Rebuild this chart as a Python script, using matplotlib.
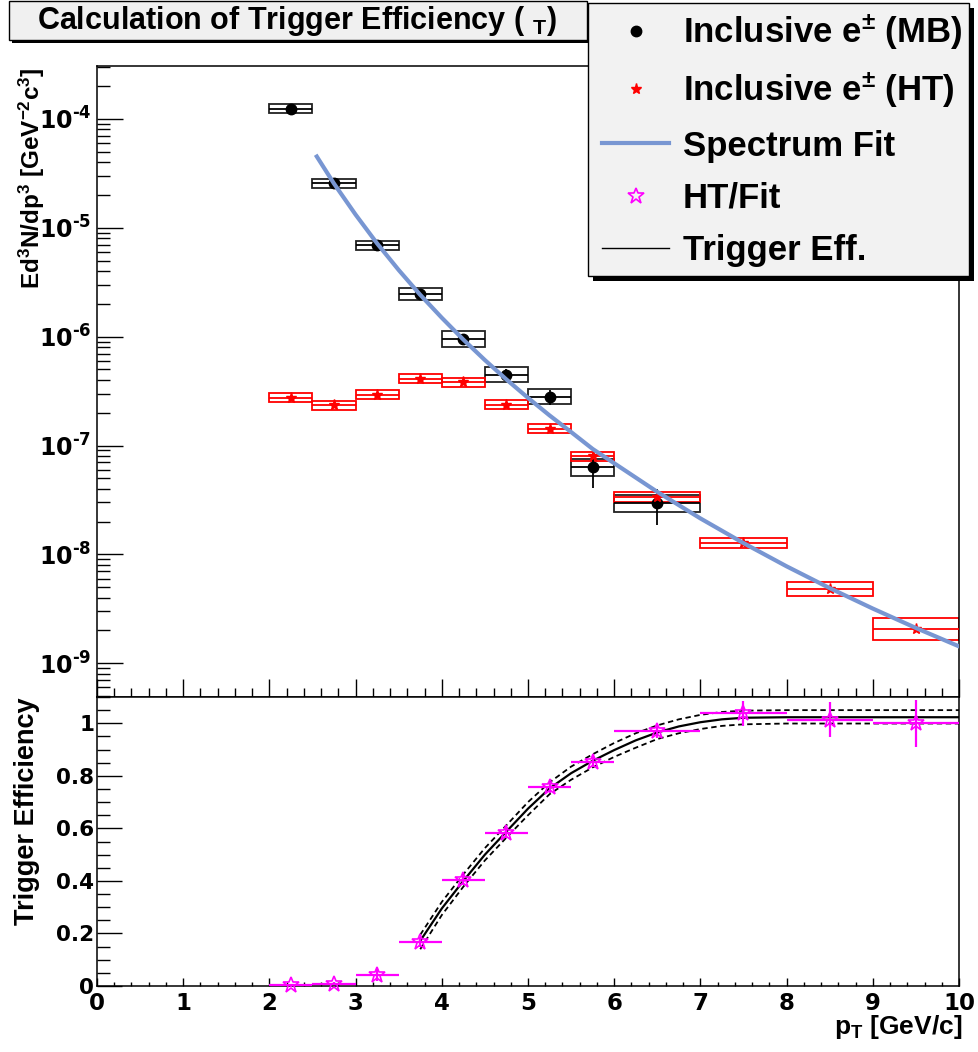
# Trigger efficiency from HT / MB inclusive electron spectra

import matplotlib
matplotlib.use("Agg")
import matplotlib.pyplot as plt
import numpy as np
from matplotlib.patches import Rectangle
from matplotlib.lines import Line2D
from matplotlib.ticker import LogLocator, MultipleLocator, FuncFormatter, NullFormatter

plt.rcParams['font.family'] = ['Liberation Sans', 'DejaVu Sans']
plt.rcParams['font.weight'] = 'bold'
plt.rcParams['mathtext.fontset'] = 'custom'
plt.rcParams['mathtext.rm'] = 'Liberation Sans:bold'
plt.rcParams['mathtext.it'] = 'Liberation Sans:bold'
plt.rcParams['mathtext.bf'] = 'Liberation Sans:bold'
plt.rcParams['mathtext.sf'] = 'DejaVu Sans:bold'
plt.rcParams['mathtext.default'] = 'rm'
plt.rcParams['axes.unicode_minus'] = False

# minimum bias inclusive electrons
mb_pt = np.array([2.25, 2.75, 3.25, 3.75, 4.25, 4.75, 5.25, 5.75, 6.5])
mb_xerr = np.array([0.25, 0.25, 0.25, 0.25, 0.25, 0.25, 0.25, 0.25, 0.5])
mb_val = np.array([1.24e-4, 2.57e-5, 6.9e-6, 2.46e-6, 9.5e-7, 4.48e-7, 2.8e-7, 6.3e-8, 2.94e-8])
mb_stat = np.array([2e-6, 4e-7, 1.2e-7, 5e-8, 3e-8, 6e-8, 4.6e-8, 2.2e-8, 1.06e-8])
mb_sys = np.array([0.10, 0.10, 0.10, 0.127, 0.184, 0.18, 0.175, 0.19, 0.20])

# high tower inclusive electrons
ht_pt = np.array([2.25, 2.75, 3.25, 3.75, 4.25, 4.75, 5.25, 5.75, 6.5, 7.5, 8.5, 9.5])
ht_xerr = np.array([0.25, 0.25, 0.25, 0.25, 0.25, 0.25, 0.25, 0.25, 0.5, 0.5, 0.5, 0.5])
ht_val = np.array([2.75e-7, 2.34e-7, 2.94e-7, 4.12e-7, 3.81e-7, 2.38e-7, 1.42e-7,
                   7.98e-8, 3.35e-8, 1.28e-8, 4.84e-9, 2.05e-9])
ht_stat = np.array([8e-9, 7e-9, 9e-9, 1.2e-8, 1.1e-8, 7e-9, 4e-9, 2.4e-9, 1e-9, 4e-10, 1.5e-10, 6e-11])
ht_sys = np.array([0.10, 0.10, 0.10, 0.10, 0.10, 0.10, 0.10, 0.10, 0.11, 0.11, 0.164, 0.258])

# spectrum fit
fit_pt = np.array([2.55, 2.75, 3.0, 3.25, 3.5, 3.75, 4.0, 4.25, 4.5, 4.75, 5.0, 5.25, 5.5,
                   5.75, 6.0, 6.5, 7.0, 7.5, 8.0, 8.5, 9.0, 9.5, 10.0])
fit_val = np.array([4.51e-5, 2.54e-5, 1.32e-5, 7.17e-6, 4.09e-6, 2.42e-6, 1.49e-6, 9.39e-7,
                    6.09e-7, 4.04e-7, 2.74e-7, 1.89e-7, 1.33e-7, 9.3e-8, 6.87e-8, 3.75e-8,
                    2.14e-8, 1.27e-8, 7.77e-9, 4.9e-9, 3.18e-9, 2.11e-9, 1.43e-9])

# HT / fit ratio
ratio_val = np.array([0.002, 0.008, 0.041, 0.167, 0.403, 0.582, 0.756, 0.854, 0.970, 1.038, 1.014, 1.000])
ratio_err = np.array([0.004, 0.006, 0.023, 0.02, 0.019, 0.02, 0.02, 0.02, 0.027, 0.048, 0.066, 0.09])

# trigger efficiency fit and its band
eff_pt = np.array([3.75, 4.0, 4.25, 4.5, 4.75, 5.0, 5.25, 5.5, 5.75, 6.0, 6.25, 6.5,
                   6.75, 7.0, 7.25, 7.5, 8.0, 9.0, 10.0])
eff_val = np.array([0.172, 0.295, 0.400, 0.500, 0.588, 0.675, 0.752, 0.810, 0.857, 0.898,
                    0.935, 0.965, 0.988, 1.004, 1.015, 1.021, 1.023, 1.023, 1.023])
eff_hi = np.array([0.195, 0.32, 0.425, 0.525, 0.612, 0.70, 0.775, 0.835, 0.882, 0.925,
                   0.962, 0.992, 1.015, 1.032, 1.043, 1.048, 1.05, 1.05, 1.05])
eff_lo = np.array([0.14, 0.27, 0.378, 0.478, 0.565, 0.65, 0.73, 0.785, 0.832, 0.872,
                   0.907, 0.94, 0.962, 0.978, 0.99, 0.996, 0.999, 0.999, 0.999])

W, H = 979, 1052
fig = plt.figure(figsize=(W / 100, H / 100), dpi=100)
ax1 = fig.add_axes([97 / W, 1 - 697 / H, 862 / W, 631 / H])
ax2 = fig.add_axes([97 / W, 1 - 986 / H, 862 / W, 289 / H])

blue = '#7896d2'
mag = '#ff00ff'

# ---- upper panel
ax1.set_yscale('log')
ax1.set_xlim(0, 10)
ax1.set_ylim(4.9e-10, 3.06e-4)

ax1.bar(mb_pt, mb_val * (1 + mb_sys) - mb_val / (1 + mb_sys), width=2 * mb_xerr,
        bottom=mb_val / (1 + mb_sys), fill=False, edgecolor='#222222', linewidth=1.3, zorder=2)
ax1.bar(ht_pt, ht_val * (1 + ht_sys) - ht_val / (1 + ht_sys), width=2 * ht_xerr,
        bottom=ht_val / (1 + ht_sys), fill=False, edgecolor='#ff0000', linewidth=1.3, zorder=2)

ax1.errorbar(mb_pt, mb_val, xerr=mb_xerr, yerr=mb_stat, fmt='o', color='black',
             ms=7.5, elinewidth=1.3, capsize=0, zorder=4)
ax1.errorbar(ht_pt, ht_val, xerr=ht_xerr, yerr=ht_stat, fmt='*', color='#ff0000',
             ecolor='#ff0000', ms=8, elinewidth=1.3, capsize=0, zorder=4)
ax1.plot(fit_pt, fit_val, color=blue, lw=3.0, zorder=5)


def log_label(v, pos):
    # ROOT style 10^-n with a short hyphen
    return '$\\mathsf{10^{\u2010%d}}$' % abs(round(np.log10(v)))


ax1.yaxis.set_major_locator(LogLocator(base=10, numticks=20))
ax1.yaxis.set_minor_locator(LogLocator(base=10, subs=np.arange(2, 10), numticks=50))
ax1.yaxis.set_major_formatter(FuncFormatter(log_label))
ax1.yaxis.set_minor_formatter(NullFormatter())
ax1.xaxis.set_major_locator(MultipleLocator(1))
ax1.xaxis.set_minor_locator(MultipleLocator(0.2))
ax1.tick_params(axis='y', which='major', direction='in', length=19, width=1.0, labelsize=17, pad=4)
ax1.tick_params(axis='y', which='minor', direction='in', length=9.5, width=1.0)
ax1.tick_params(axis='x', which='major', direction='in', length=13, width=1.0, labelbottom=False)
ax1.tick_params(axis='x', which='minor', direction='in', length=6.5, width=1.0)

# ---- lower panel
ax2.set_xlim(0, 10)
ax2.set_ylim(0, 1.1)
ax2.plot(eff_pt, eff_val, color='black', lw=1.6, zorder=3)
ax2.plot(eff_pt, eff_hi, color='black', lw=1.3, ls=(0, (3, 2)), zorder=3)
ax2.plot(eff_pt, eff_lo, color='black', lw=1.3, ls=(0, (3, 2)), zorder=3)
ax2.errorbar(ht_pt, ratio_val, xerr=ht_xerr, yerr=ratio_err, fmt='*', color=mag,
             mfc='none', mec=mag, ms=12, mew=1.2, elinewidth=1.6, capsize=0,
             zorder=4, clip_on=False)

ax2.xaxis.set_major_locator(MultipleLocator(1))
ax2.xaxis.set_minor_locator(MultipleLocator(0.2))
ax2.yaxis.set_major_locator(MultipleLocator(0.2))
ax2.yaxis.set_minor_locator(MultipleLocator(0.05))
ax2.yaxis.set_major_formatter(FuncFormatter(lambda v, p: '%g' % round(v, 1)))
ax2.tick_params(axis='y', which='major', direction='in', length=18, width=1.0, labelsize=15.5,
                pad=2, labelfontfamily='DejaVu Sans')
ax2.tick_params(axis='y', which='minor', direction='in', length=9, width=1.0)
ax2.tick_params(axis='x', which='major', direction='in', length=6, width=1.0, labelsize=16.5,
                pad=4, labelfontfamily='DejaVu Sans')
ax2.tick_params(axis='x', which='minor', direction='in', length=3, width=1.0)

for ax in (ax1, ax2):
    for s in ax.spines.values():
        s.set_linewidth(1.1)

# axis titles
fig.text(32 / W, 1 - 67 / H, r'Ed$^3$N/dp$^3$ [GeV$^{-2}$c$^3$]', rotation=90,
         ha='center', va='top', fontsize=17.5, fontweight='bold')
fig.text(27 / W, 1 - 697 / H, 'Trigger Efficiency', rotation=90,
         ha='center', va='top', fontsize=19.5, fontweight='bold')
fig.text(962 / W, 1 - 1027 / H, r'p$_T$ [GeV/c]', ha='right', va='center',
         fontsize=19, fontweight='bold')

# title box with shadow
fig.patches.append(Rectangle((12 / W, 1 - 43 / H), 578 / W, 40 / H, transform=fig.transFigure,
                             facecolor='black', edgecolor='none', zorder=8))
fig.patches.append(Rectangle((9 / W, 1 - 40 / H), 578 / W, 39 / H, transform=fig.transFigure,
                             facecolor='#f0f0f0', edgecolor='black', lw=1.0, zorder=9))
fig.text(297 / W, 1 - 21 / H, r'Calculation of Trigger Efficiency ( $_T$)', ha='center',
         va='center', fontsize=22, fontweight='bold', zorder=10)

# legend box with shadow
fig.patches.append(Rectangle((593 / W, 1 - 281 / H), 381 / W, 273 / H, transform=fig.transFigure,
                             facecolor='black', edgecolor='none', zorder=8))
fig.patches.append(Rectangle((588 / W, 1 - 276 / H), 381 / W, 273 / H, transform=fig.transFigure,
                             facecolor='#f2f2f2', edgecolor='black', lw=1.0, zorder=9))

handles = [
    Line2D([], [], ls='none', marker='o', color='black', ms=7.5),
    Line2D([], [], ls='none', marker='*', color='#ff0000', ms=8),
    Line2D([], [], color=blue, lw=3.0),
    Line2D([], [], ls='none', marker='*', mfc='none', mec=mag, ms=12, mew=1.2),
    Line2D([], [], color='black', lw=1.0),
]
labels = [r'Inclusive e$^{\pm}$ (MB)', r'Inclusive e$^{\pm}$ (HT)', 'Spectrum Fit',
          'HT/Fit', 'Trigger Eff.']
leg = fig.legend(handles, labels, loc='upper left', bbox_to_anchor=(602 / W, 1 - 12 / H),
                 frameon=False, fontsize=25, handlelength=1.93, handletextpad=0.4,
                 labelspacing=0.55, borderpad=0, borderaxespad=0)
leg.set_zorder(11)

fig.savefig('out.png', dpi=100)
